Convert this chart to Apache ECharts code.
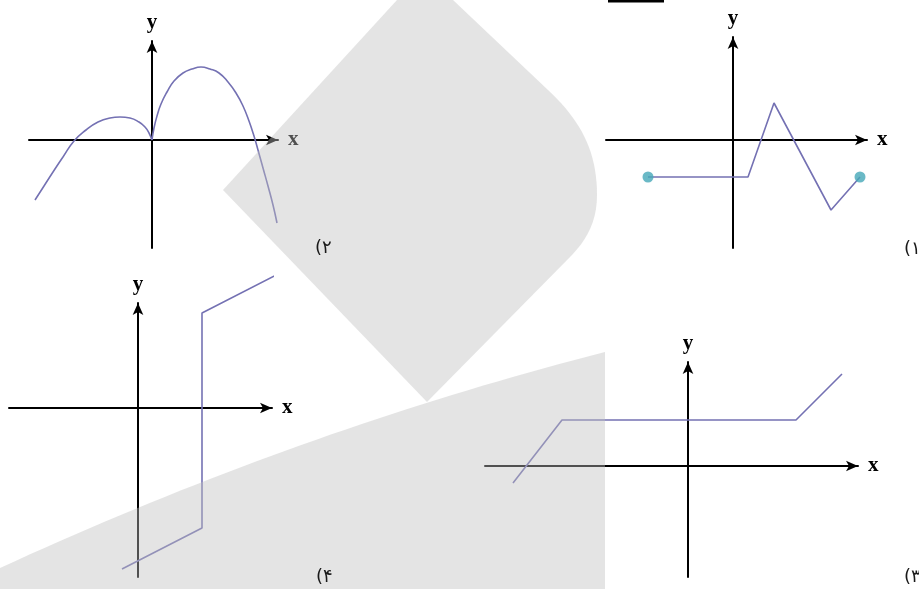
<!DOCTYPE html>
<html><head><meta charset="utf-8">
<script src="https://cdn.jsdelivr.net/npm/echarts@6/dist/echarts.min.js"></script>
<style>html,body{margin:0;padding:0;background:#fff}#c{width:919px;height:589px}</style>
</head><body><div id="c"></div>
<script>
// Panel ۲ (top-left): two arches meeting at a cusp at the origin
const curveLeft2 = [[-11.7,-6.0],[-10.8,-4.6],[-9.9,-3.2],[-8.9,-1.7],[-7.8,-0.1],[-6.6,1.0],[-5.4,1.8],[-4.2,2.2],[-3.2,2.3],[-2.2,2.2],[-1.3,1.8],[-0.7,1.3],[-0.3,0.7],[0,0]];
const curveRight2 = [[0,0],[0.2,1.2],[0.5,2.4],[0.9,3.6],[1.5,4.8],[2.2,5.9],[3.1,6.7],[4.0,7.1],[4.9,7.3],[5.8,7.1],[6.7,6.7],[7.6,5.8],[8.4,4.7],[9.1,3.4],[9.7,1.9],[10.2,0.4],[10.6,-1.0],[11.1,-2.8],[11.6,-4.6],[12.1,-6.5],[12.5,-8.3]];
// Panel ۱ (top-right): piecewise linear with end points
const poly1 = [[-8.5,-3.7],[1.5,-3.7],[4.1,3.7],[9.8,-7.0],[12.7,-3.7]];
// Panel ۴ (bottom-left)
const poly4 = [[-1.6,-16.1],[6.4,-12.0],[6.4,9.5],[14.0,13.4]];
// Panel ۳ (bottom-right)
const poly3 = [[-17.5,-1.7],[-12.6,4.6],[10.8,4.6],[15.4,9.2]];
// Panel labels
const panelLabels = ['(۱', '(۲', '(۳', '(۴'];
const axisNames = ['x', 'y'];

const LINE = '#7471b3';
const DOT = '#45a8b8';
const U = 10; // px per unit

const panels = [
  {ox:152, oy:140, xmin:-12.3, xmax:12.6, ymin:-10.8, ymax:9.9},
  {ox:733, oy:140, xmin:-12.7, xmax:13.4, ymin:-10.8, ymax:10.3},
  {ox:138, oy:408, xmin:-12.9, xmax:13.4, ymin:-16.9, ymax:10.5},
  {ox:688, oy:466, xmin:-20.3, xmax:17.0, ymin:-11.1, ymax:10.4}
];

const grids = [], xAxes = [], yAxes = [];
function mkLine(){ return {show:true, onZero:true, symbol:['none','arrow'], symbolSize:[8,12], lineStyle:{color:'#000', width:2}}; }
function nameStyle(extra){ return Object.assign({fontFamily:'Liberation Serif', fontWeight:'bold', fontSize:21, color:'#000'}, extra||{}); }
panels.forEach((p,i)=>{
  grids.push({left:p.ox + p.xmin*U, top:p.oy - p.ymax*U, width:(p.xmax-p.xmin)*U, height:(p.ymax-p.ymin)*U});
  xAxes.push({type:'value', gridIndex:i, min:p.xmin, max:p.xmax, axisLine:mkLine(), axisTick:{show:false}, axisLabel:{show:false}, splitLine:{show:false},
    name:axisNames[0], nameLocation:'end', nameGap:10, nameTextStyle:nameStyle()});
  yAxes.push({type:'value', gridIndex:i, min:p.ymin, max:p.ymax, axisLine:mkLine(), axisTick:{show:false}, axisLabel:{show:false}, splitLine:{show:false},
    name:axisNames[1], nameLocation:'end', nameGap:8, nameTextStyle:nameStyle()});
});

function lineSeries(idx, data, smooth){
  return {type:'line', xAxisIndex:idx, yAxisIndex:idx, data:data, smooth:smooth||false, showSymbol:false, symbol:'none', clip:false,
    lineStyle:{color:LINE, width:1.6}, silent:true, z:3};
}
const series = [
  lineSeries(0, curveLeft2, 0.5),
  lineSeries(0, curveRight2, 0.5),
  lineSeries(1, poly1),
  {type:'scatter', xAxisIndex:1, yAxisIndex:1, data:[poly1[0], poly1[poly1.length-1]], symbolSize:11, itemStyle:{color:DOT}, z:4, silent:true, clip:false},
  lineSeries(2, poly4),
  lineSeries(3, poly3)
];

// decorative background shapes (pixel space), curves sampled as bezier points
function cubic(p0,p1,p2,p3,n){ const out=[]; for(let k=1;k<=n;k++){const t=k/n,u=1-t;
  out.push([u*u*u*p0[0]+3*u*u*t*p1[0]+3*u*t*t*p2[0]+t*t*t*p3[0], u*u*u*p0[1]+3*u*u*t*p1[1]+3*u*t*t*p2[1]+t*t*t*p3[1]]);} return out; }
function quad(p0,p1,p2,n){ const out=[]; for(let k=1;k<=n;k++){const t=k/n,u=1-t;
  out.push([u*u*p0[0]+2*u*t*p1[0]+t*t*p2[0], u*u*p0[1]+2*u*t*p1[1]+t*t*p2[1]]);} return out; }
const shapeA = [[397,0],[453,0],[548,90]]
  .concat(cubic([548,90],[580,120],[597,150],[597,195],20))
  .concat(cubic([597,195],[597,220],[588,238],[572,255],10))
  .concat([[427,402],[223,190]]);
const shapeB = [[0,568]].concat(quad([0,568],[300,430],[605,352],40)).concat([[605,589],[0,589]]);

const overlay = 'rgba(190,190,190,0.42)';
function lbl(text, x, y){ return {type:'text', z:60, x:x, y:y, style:{text:text, fill:'#1a1a1a', font:'18px "DejaVu Sans"', textVerticalAlign:'middle', textAlign:'left'}}; }
const graphic = [
  {type:'polygon', z:50, shape:{points:shapeA}, style:{fill:overlay}},
  {type:'polygon', z:50, shape:{points:shapeB}, style:{fill:overlay}},
  {type:'rect', z:60, shape:{x:608, y:0, width:56, height:2.5}, style:{fill:'#000'}},
  lbl(panelLabels[0], 904, 249),
  lbl(panelLabels[1], 315, 248),
  lbl(panelLabels[2], 904, 577),
  lbl(panelLabels[3], 316, 577)
];

const chart = echarts.init(document.getElementById('c'));
chart.setOption({animation:false, backgroundColor:'#fff', grid:grids, xAxis:xAxes, yAxis:yAxes, series:series, graphic:graphic});
</script></body></html>
